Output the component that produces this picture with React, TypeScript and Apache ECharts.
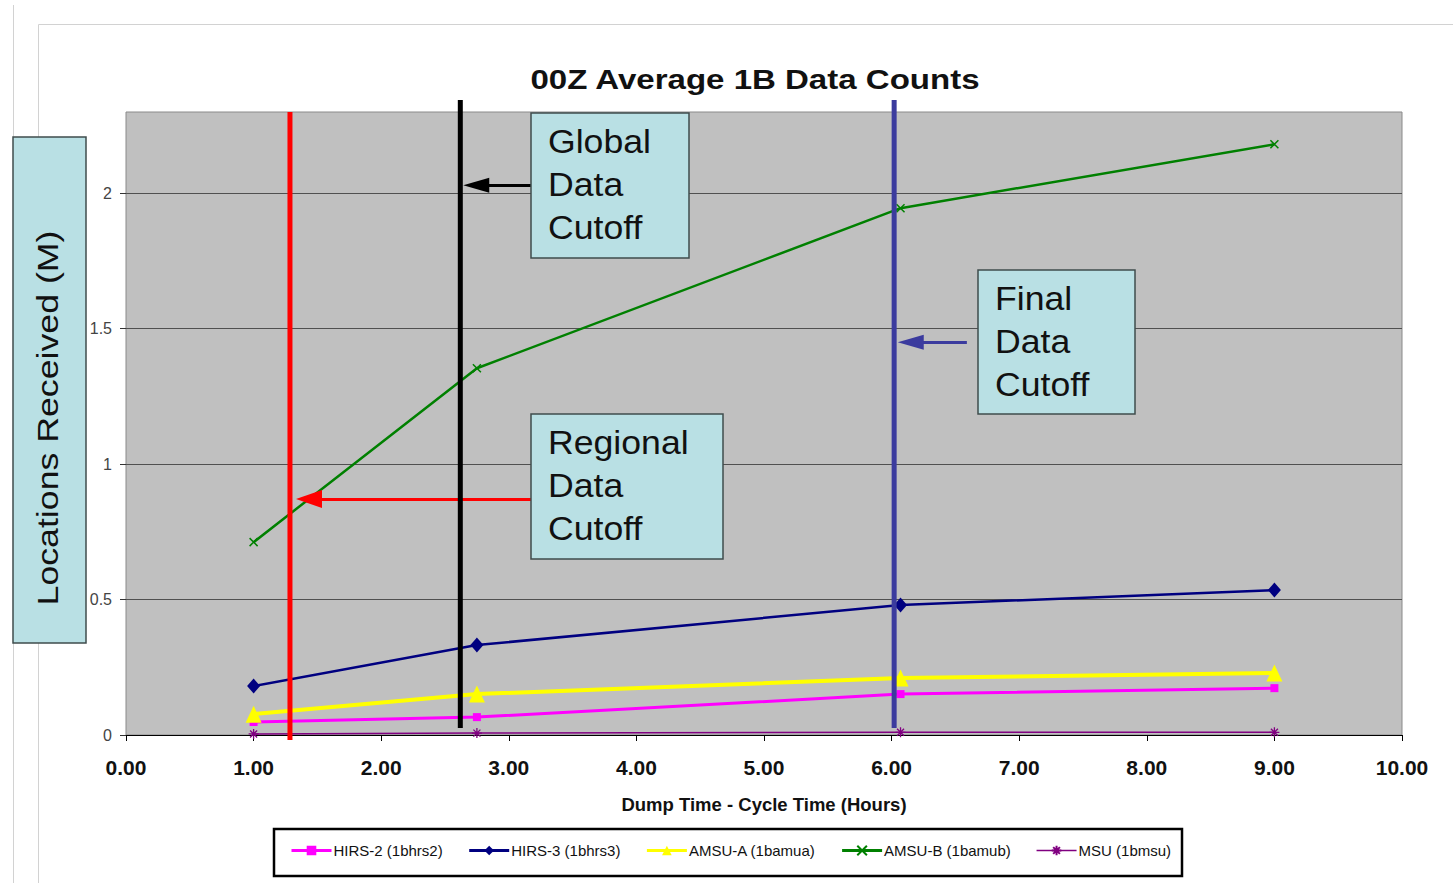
import React, { useEffect, useRef } from "react";
import * as echarts from "echarts";

// Hours after cycle time at which each dump was sampled
const dumpTimes = [1.0, 2.75, 6.07, 9.0];

// Locations received (millions) per data type
const seriesNames = [
  "HIRS-2 (1bhrs2)",
  "HIRS-3 (1bhrs3)",
  "AMSU-A (1bamua)",
  "AMSU-B (1bamub)",
  "MSU (1bmsu)",
];
const hirs2 = [0.048, 0.066, 0.151, 0.173];
const hirs3 = [0.181, 0.332, 0.48, 0.535];
const amsuA = [0.077, 0.151, 0.21, 0.229];
const amsuB = [0.712, 1.354, 1.945, 2.181];
const msu = [0.004, 0.007, 0.01, 0.01];

// Axis ticks
const xTicks = [0, 1, 2, 3, 4, 5, 6, 7, 8, 9, 10];
const yTicks = [0, 0.5, 1, 1.5, 2];

// Data cutoff times (hours) and their annotation arrows
const regionalCutoff = 1.285;
const globalCutoff = 2.62;
const finalCutoff = 6.02;
const regionalArrow = { from: 3.174, to: 1.434, y: 0.871 };
const globalArrow = { from: 3.174, to: 2.745, y: 2.03 };
const finalArrow = { from: 6.59, to: 6.15, y: 1.45 };

const FONT = '"Liberation Sans", Arial, sans-serif';
const BOX_FILL = "#b9e0e4";
const BOX_STROKE = "#3f4c4c";

const pair = (ys: number[]) => dumpTimes.map((x, i) => [x, ys[i]]);

const cutoffSeries = (
  name: string,
  x: number,
  y0: number,
  y1: number,
  color: string,
  arrow: { from: number; to: number; y: number },
  head: number[]
) => ({
  name,
  type: "line",
  data: [
    [x, y0],
    [x, y1],
  ],
  showSymbol: false,
  symbol: "none",
  clip: false,
  silent: true,
  z: 5,
  lineStyle: { color, width: 5 },
  markLine: {
    silent: true,
    symbol: ["none", "triangle"],
    symbolSize: head,
    label: { show: false },
    lineStyle: { color, width: 3, type: "solid" },
    emphasis: { disabled: true },
    data: [
      [
        { coord: [arrow.from, arrow.y] },
        { coord: [arrow.to, arrow.y] },
      ],
    ],
  },
});

const annotation = (
  x: number,
  y: number,
  w: number,
  h: number,
  text: string
) => [
  {
    type: "rect",
    z: 100,
    silent: true,
    shape: { x, y, width: w, height: h },
    style: { fill: BOX_FILL, stroke: BOX_STROKE, lineWidth: 1.5 },
  },
  {
    type: "text",
    z: 101,
    silent: true,
    x: x + 17,
    y: y + 7,
    scaleX: 1.08,
    style: {
      text,
      font: `33px ${FONT}`,
      fill: "#111111",
      lineHeight: 43,
      textVerticalAlign: "top",
    },
  },
];

export default function App() {
  const ref = useRef<HTMLDivElement>(null);

  useEffect(() => {
    if (!ref.current) return;
    const chart = echarts.init(ref.current, null, { renderer: "svg" });

    const option = {
      animation: false,
      backgroundColor: "#ffffff",
      grid: {
        left: 126,
        top: 112,
        right: 51,
        bottom: 148,
        show: true,
        backgroundColor: "#c0c0c0",
        borderColor: "#8a8a8a",
        borderWidth: 1,
      },
      xAxis: {
        type: "value",
        min: 0,
        max: 10,
        interval: 1,
        name: "Dump Time - Cycle Time (Hours)",
        nameLocation: "middle",
        nameGap: 60,
        nameTextStyle: {
          fontFamily: FONT,
          fontWeight: "bold",
          fontSize: 18.5,
          color: "#111111",
        },
        axisLine: { show: true, onZero: false, lineStyle: { color: "#000000", width: 1 } },
        axisTick: { show: true, length: 6, lineStyle: { color: "#000000" } },
        splitLine: { show: false },
        axisLabel: {
          customValues: xTicks,
          formatter: (v: number) => v.toFixed(2),
          fontFamily: FONT,
          fontWeight: "bold",
          fontSize: 21,
          color: "#111111",
          margin: 22,
        },
      },
      yAxis: {
        type: "value",
        min: 0,
        max: 2.3,
        interval: 0.5,
        axisLine: { show: false },
        axisTick: {
          show: true,
          length: 6,
          customValues: yTicks,
          lineStyle: { color: "#333333" },
        },
        splitLine: { show: true, lineStyle: { color: "#505050", width: 1 } },
        axisLabel: {
          customValues: yTicks,
          formatter: (v: number) => String(v),
          fontFamily: FONT,
          fontSize: 16,
          color: "#444444",
          margin: 14,
        },
      },
      legend: {
        data: seriesNames.map((name, i) => ({
          name,
          lineStyle: { width: i === 4 ? 1.5 : 3 },
        })),
        left: 290,
        top: 843,
        itemWidth: 40,
        itemHeight: 12,
        itemGap: 25,
        padding: 0,
        selectedMode: false,
        textStyle: { fontFamily: FONT, fontSize: 15, color: "#111111", padding: [0, 0, 0, -3] },
      },
      series: [
        {
          name: seriesNames[0],
          type: "line",
          data: pair(hirs2),
          symbol: "rect",
          symbolSize: 8,
          lineStyle: { color: "#ff00ff", width: 3 },
          itemStyle: { color: "#ff00ff" },
          z: 3,
        },
        {
          name: seriesNames[1],
          type: "line",
          data: pair(hirs3),
          symbol: "diamond",
          symbolSize: [13, 15],
          lineStyle: { color: "#000080", width: 2.5 },
          itemStyle: { color: "#000080" },
          z: 3,
        },
        {
          name: seriesNames[2],
          type: "line",
          data: pair(amsuA),
          symbol: "triangle",
          symbolSize: [16, 17],
          lineStyle: { color: "#ffff00", width: 4 },
          itemStyle: { color: "#ffff00" },
          z: 3,
        },
        {
          name: seriesNames[3],
          type: "line",
          data: pair(amsuB),
          symbol: "path://M-1,-1L1,1M-1,1L1,-1",
          symbolSize: 8,
          lineStyle: { color: "#008000", width: 2.5 },
          itemStyle: { color: "#008000", borderColor: "#008000", borderWidth: 1.5 },
          z: 3,
        },
        {
          name: seriesNames[4],
          type: "line",
          data: pair(msu),
          symbol: "path://M0,-1L0,1M-1,0L1,0M-0.7,-0.7L0.7,0.7M-0.7,0.7L0.7,-0.7",
          symbolSize: 10,
          lineStyle: { color: "#800080", width: 1.5 },
          itemStyle: { color: "#800080", borderColor: "#800080", borderWidth: 1.3 },
          z: 3,
        },
        cutoffSeries("Regional cutoff", regionalCutoff, -0.018, 2.3, "#ff0000", regionalArrow, [18, 26]),
        cutoffSeries("Global cutoff", globalCutoff, 0.026, 2.344, "#000000", globalArrow, [15, 26]),
        cutoffSeries("Final cutoff", finalCutoff, 0.026, 2.344, "#3b3b9e", finalArrow, [15, 26]),
      ],
      graphic: [
        {
          type: "line",
          silent: true,
          z: 0,
          shape: { x1: 13.5, y1: 5, x2: 13.5, y2: 883 },
          style: { stroke: "#d2d2d2", lineWidth: 1 },
        },
        {
          type: "polyline",
          silent: true,
          z: 0,
          shape: { points: [[38.5, 883], [38.5, 24.5], [1453, 24.5]] },
          style: { stroke: "#d2d2d2", lineWidth: 1, fill: null },
        },
        {
          type: "text",
          silent: true,
          z: 50,
          x: 755,
          y: 79,
          scaleX: 1.18,
          style: {
            text: "00Z Average 1B Data Counts",
            font: `bold 28px ${FONT}`,
            fill: "#111111",
            textAlign: "center",
            textVerticalAlign: "middle",
          },
        },
        {
          type: "rect",
          silent: true,
          z: 100,
          shape: { x: 13, y: 137, width: 73, height: 506 },
          style: { fill: BOX_FILL, stroke: BOX_STROKE, lineWidth: 1.5 },
        },
        {
          type: "text",
          silent: true,
          z: 101,
          x: 48,
          y: 418,
          rotation: Math.PI / 2,
          scaleX: 1.19,
          style: {
            text: "Locations Received (M)",
            font: `30px ${FONT}`,
            fill: "#111111",
            textAlign: "center",
            textVerticalAlign: "middle",
          },
        },
        ...annotation(531, 113, 158, 145, "Global\nData\nCutoff"),
        ...annotation(531, 414, 192, 145, "Regional\nData\nCutoff"),
        ...annotation(978, 270, 157, 144, "Final\nData\nCutoff"),
        {
          type: "rect",
          silent: true,
          z: 100,
          shape: { x: 274, y: 829, width: 908, height: 47 },
          style: { fill: null, stroke: "#000000", lineWidth: 2.5 },
        },
      ],
    };

    chart.setOption(option as any);
    return () => chart.dispose();
  }, []);

  return (
    <div
      ref={ref}
      style={{ position: "fixed", left: 0, top: 0, width: 1453, height: 883 }}
    />
  );
}
